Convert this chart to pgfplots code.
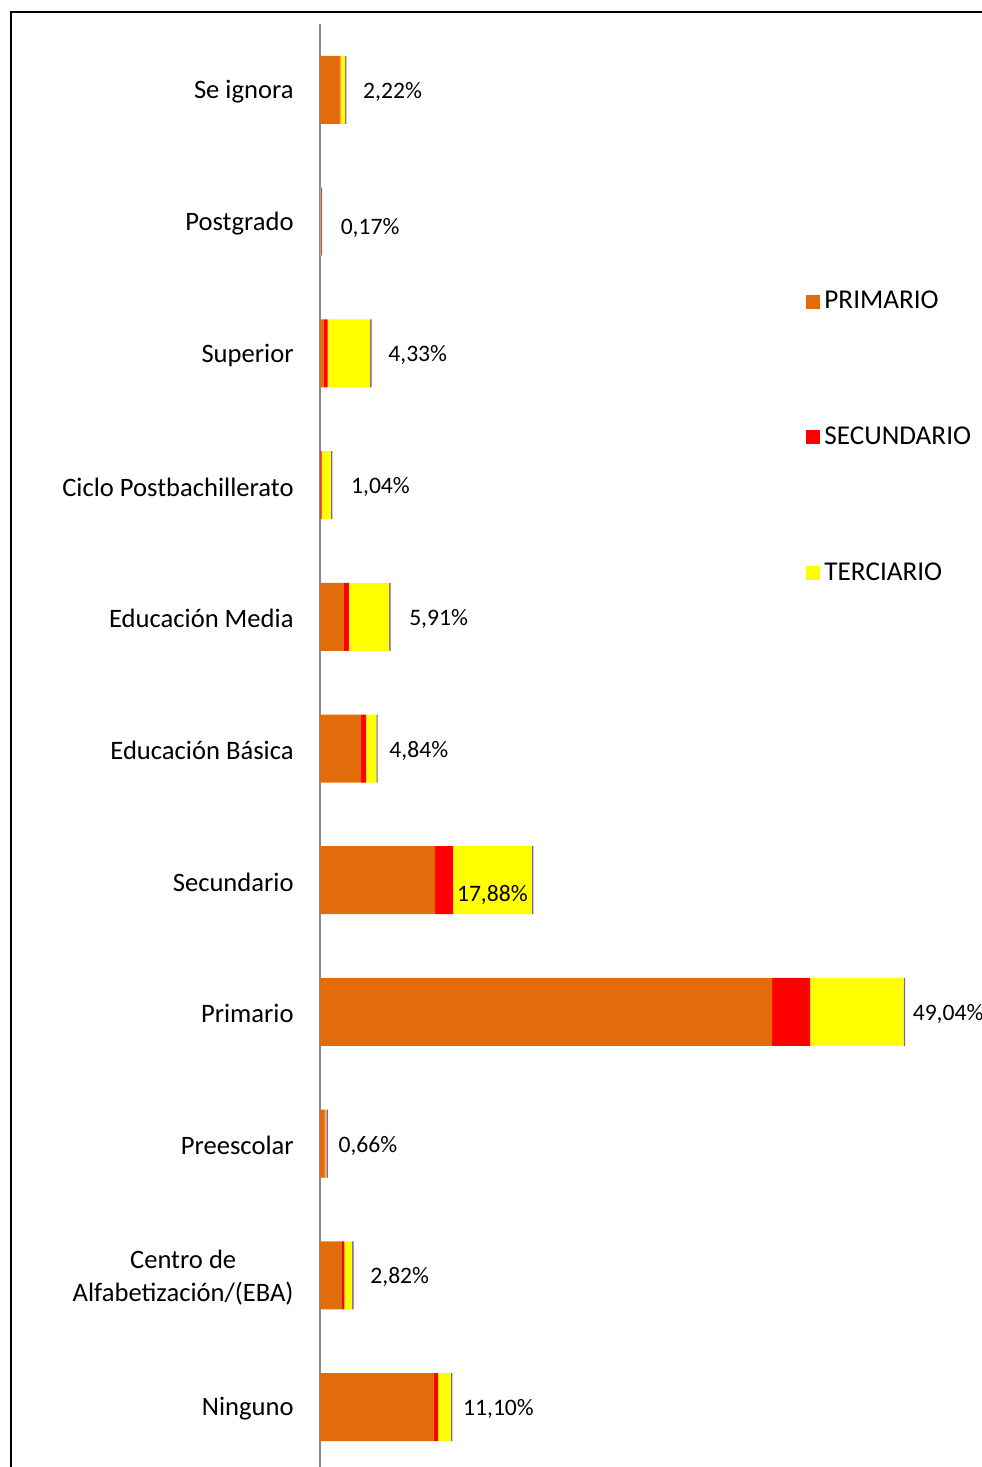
\documentclass[border=0pt]{standalone}
\usepackage{fontspec}
\setmainfont{Carlito}
\usepackage{pgfplots}
\pgfplotsset{compat=1.18}
\usepackage{pgfplotstable}

\definecolor{prim}{HTML}{E36C0A}
\definecolor{secu}{HTML}{FF0000}
\definecolor{terc}{HTML}{FFFF00}
\definecolor{otro}{HTML}{7F5FA8}
\definecolor{axgray}{HTML}{898989}

% valores en % ; dx, dy = desplazamiento de la etiqueta del total (pt)
\pgfplotstableread{
idx prim secu terc otro total dx dy
0  9.56 0.34 1.08 0.12 11.10  2.2  0
1  1.84 0.20 0.66 0.12  2.82  5.2  0
2  0.38 0.08 0.08 0.12  0.66  2.2  0
3 37.89 3.19 7.84 0.12 49.04  0.7  0
4  9.64 1.51 6.61 0.12 17.88 -41.3 -6.5
5  3.44 0.42 0.86 0.12  4.84  2.7  0
6  2.01 0.42 3.36 0.12  5.91  6.2  0
7  0.03 0.10 0.79 0.12  1.04  6.2  0
8  0.34 0.30 3.57 0.12  4.33  5.2  0
9  0.01 0.01 0.03 0.12  0.17  6.2 -2
10 1.62 0.08 0.40 0.12  2.22  5.2  0
}\datos

\begin{document}
\begin{tikzpicture}
\useasboundingbox (0,0) rectangle (490.5pt,733.5pt);
\draw[line width=1pt] (5.25pt,-5pt) -- (5.25pt,727.25pt) -- (500pt,727.25pt);
\begin{axis}[
  at={(160pt,-2.93pt)}, anchor=south west, scale only axis,
  width=298.25pt, height=724.35pt,
  xbar stacked, bar width=34pt,
  xmin=0, xmax=50, ymin=-0.5, ymax=10.5,
  axis x line=none, axis y line=left,
  axis line style={axgray, line width=1pt, -},
  ytick={0,...,10}, major tick length=0pt,
  yticklabels={Ninguno,{Centro de\\Alfabetización/(EBA)},Preescolar,Primario,Secundario,Educación Básica,Educación Media,Ciclo Postbachillerato,Superior,Postgrado,Se ignora},
  yticklabel style={align=center, inner sep=0pt, xshift=-13pt, yshift=-1pt, font=\fontsize{13.3}{16.5}\selectfont},
  /pgf/number format/assume math mode=true,
  legend style={at={(0.8148,0.8186)}, anchor=north west, draw=none, fill=none,
    inner sep=0pt, row sep=53.5pt, font=\fontsize{13.6}{15}\selectfont,
    /tikz/every even column/.append style={column sep=4pt}},
  legend cell align=left,
  legend image code/.code={\fill[#1] (0pt,-3.5pt) rectangle (7pt,3.5pt);},
]
\addplot[fill=prim, draw=none] table[x=prim, y=idx] {\datos};
\addlegendentry{PRIMARIO}
\addplot[fill=secu, draw=none] table[x=secu, y=idx] {\datos};
\addlegendentry{SECUNDARIO}
\addplot[fill=terc, draw=none] table[x=terc, y=idx] {\datos};
\addlegendentry{TERCIARIO}
\addplot[fill=otro, draw=none, forget plot,
  point meta=explicit,
  visualization depends on={\thisrow{dx} \as \dx},
  visualization depends on={\thisrow{dy} \as \dy},
  nodes near coords={\pgfmathprintnumber[fixed,zerofill,precision=2,use comma]{\pgfplotspointmeta}\%},
  every node near coord/.append style={anchor=west, xshift=\dx pt, yshift=\dy pt - 1pt, black, font=\fontsize{11.8}{14}\selectfont},
] table[x=otro, y=idx, meta=total] {\datos};
\end{axis}
\end{tikzpicture}
\end{document}
